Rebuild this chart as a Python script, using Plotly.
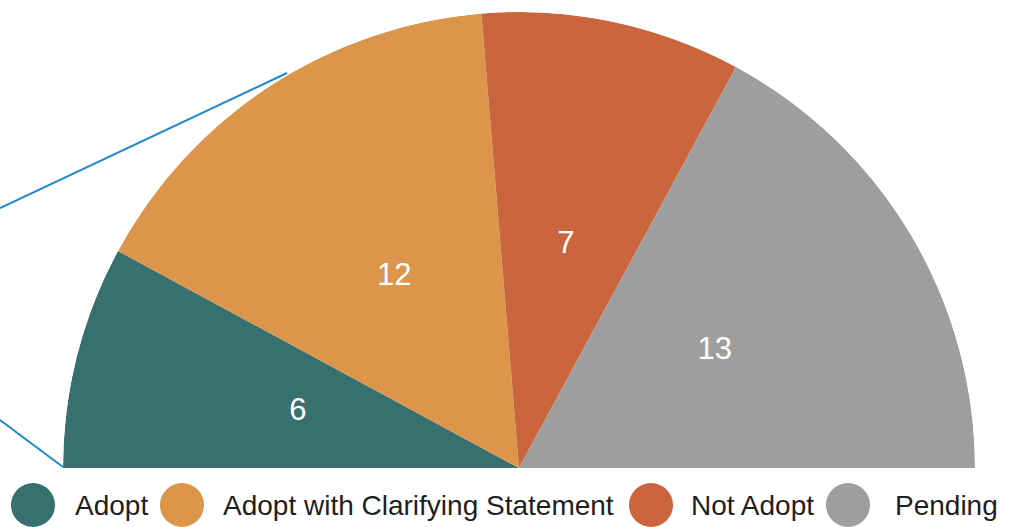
import plotly.graph_objects as go

categories = ["Adopt", "Adopt with Clarifying Statement", "Not Adopt", "Pending"]
values = [6, 12, 7, 13]
colors = ["#386f6f", "#dc964c", "#cb653d", "#9e9e9e"]

W, H = 1012, 527
total = sum(values)
span = [v / total * 180 for v in values]
centers = []
acc = 0
for s in span:
    centers.append(acc + s / 2)
    acc += s

fig = go.Figure()
fig.add_trace(go.Barpolar(
    r=[1] * len(values), theta=centers, width=span,
    marker=dict(color=colors, line=dict(width=0)),
    text=categories, hoverinfo="text", showlegend=False,
))
fig.add_trace(go.Scatterpolar(
    r=[0.5] * len(values), theta=centers, mode="text",
    text=[str(v) for v in values],
    textfont=dict(family="Liberation Sans, Arial, sans-serif", size=31, color="white"),
    hoverinfo="skip", showlegend=False,
))

def px(x):
    return x / W

def py(y):
    return 1 - y / H

fig.update_layout(
    width=W, height=H,
    margin=dict(l=0, r=0, t=0, b=0),
    paper_bgcolor="white",
    polar=dict(
        domain=dict(x=[px(63), px(975)], y=[py(468), py(12)]),
        sector=[0, 180],
        bgcolor="white",
        bargap=0,
        radialaxis=dict(visible=False, range=[0, 1]),
        angularaxis=dict(visible=False, direction="clockwise", rotation=180),
    ),
    showlegend=False,
)

# callout lines
line_color = "#1f88d0"
for (x0, y0, x1, y1) in [(0, 208, 287, 73), (0, 420, 63, 467)]:
    fig.add_shape(type="line", xref="paper", yref="paper",
                  x0=px(x0), y0=py(y0), x1=px(x1), y1=py(y1),
                  line=dict(color=line_color, width=2))

# custom legend: big circles + labels
legend_circle_x = [33, 182, 651, 848]
legend_text_x = [73, 221, 689, 893]
legend_y = 505
r = 22
for cx, tx, name, col in zip(legend_circle_x, legend_text_x, categories, colors):
    fig.add_shape(type="circle", xref="paper", yref="paper",
                  x0=px(cx - r), x1=px(cx + r), y0=py(legend_y + r), y1=py(legend_y - r),
                  fillcolor=col, line=dict(width=0))
    fig.add_annotation(x=px(tx), y=py(legend_y), xref="paper", yref="paper",
                       text=name, showarrow=False, xanchor="left", yanchor="middle",
                       font=dict(family="Liberation Sans, Arial, sans-serif", size=28, color="#1e1e1e"))

fig.write_html(
    "out.html",
    config={"displayModeBar": False},
    post_script="document.body.style.margin='0';document.body.style.padding='0';"
                "document.documentElement.style.overflow='hidden';",
)
